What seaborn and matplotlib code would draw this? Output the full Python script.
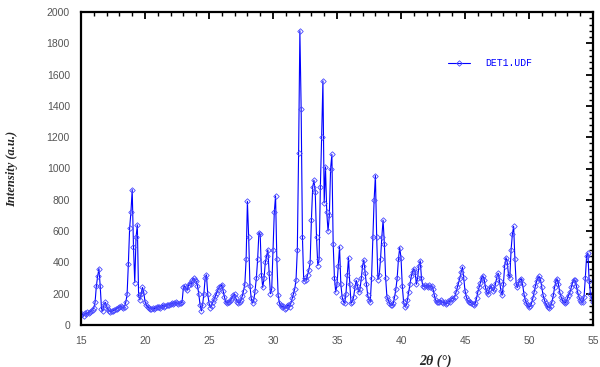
import numpy as np
import pandas as pd
import matplotlib
matplotlib.use("Agg")
import matplotlib.pyplot as plt
from matplotlib.ticker import MultipleLocator
from matplotlib.lines import Line2D
import seaborn as sns

# 2-theta from 15.0 to 55.0 in 0.1 deg steps
two_theta_start = 15.0
two_theta_step = 0.1
intensity = [
    65, 72, 60, 75, 70, 80, 78, 85, 90, 98,            # 15
    110, 145, 250, 310, 360, 250, 105, 90, 130, 145,   # 16
    120, 100, 92, 85, 88, 90, 95, 100, 105, 110,       # 17
    115, 122, 112, 108, 118, 145, 195, 390, 620, 720,  # 18
    865, 500, 270, 560, 640, 190, 160, 200, 240, 210,  # 19
    150, 128, 118, 110, 105, 100, 108, 102, 110, 112,  # 20
    115, 118, 110, 120, 125, 118, 122, 128, 130, 125,  # 21
    135, 140, 132, 138, 145, 140, 135, 142, 138, 150,  # 22
    240, 250, 235, 225, 255, 270, 260, 290, 300, 285,  # 23
    280, 250, 200, 130, 90, 130, 200, 300, 320, 200,   # 24
    140, 110, 120, 145, 165, 185, 205, 225, 240, 250,  # 25
    255, 220, 180, 150, 140, 145, 150, 160, 175, 190,  # 26
    195, 170, 150, 140, 145, 160, 185, 220, 260, 420,  # 27
    790, 560, 250, 170, 140, 160, 220, 300, 420, 590,  # 28
    580, 320, 240, 300, 400, 440, 480, 330, 200, 230,  # 29
    480, 720, 825, 420, 190, 140, 125, 115, 120, 105,  # 30
    110, 120, 130, 115, 140, 170, 200, 230, 290, 480,  # 31
    1100, 1880, 1380, 560, 280, 300, 290, 320, 350, 400,  # 32
    670, 880, 925, 850, 560, 380, 420, 880, 1200, 1560,   # 33
    780, 1010, 720, 600, 700, 1000, 1090, 520, 300, 210,  # 34
    260, 380, 500, 260, 180, 150, 140, 200, 320, 430,  # 35
    260, 140, 150, 180, 240, 285, 250, 210, 230, 300,  # 36
    380, 415, 330, 260, 190, 160, 150, 300, 560, 800,  # 37
    955, 560, 290, 320, 420, 560, 670, 520, 300, 180,  # 38
    160, 140, 130, 125, 140, 180, 230, 300, 420, 495,  # 39
    430, 250, 150, 118, 125, 160, 210, 260, 310, 340,  # 40
    360, 340, 260, 300, 380, 410, 300, 250, 245, 255,  # 41
    250, 240, 255, 245, 250, 230, 190, 160, 150, 145,  # 42
    150, 160, 145, 140, 150, 135, 140, 155, 150, 165,  # 43
    170, 165, 180, 210, 240, 270, 300, 340, 370, 300,  # 44
    220, 180, 160, 150, 145, 140, 135, 130, 140, 170,  # 45
    210, 240, 270, 300, 315, 290, 240, 210, 200, 230,  # 46
    250, 240, 220, 230, 270, 310, 330, 280, 220, 190,  # 47
    260, 380, 430, 400, 320, 300, 480, 580, 630, 420,  # 48
    260, 240, 270, 290, 295, 260, 200, 160, 140, 125,  # 49
    115, 120, 140, 170, 210, 250, 280, 300, 310, 290,  # 50
    240, 190, 160, 140, 125, 112, 108, 120, 150, 190,  # 51
    240, 280, 295, 260, 210, 180, 160, 145, 140, 150,  # 52
    170, 190, 210, 240, 270, 290, 285, 250, 210, 180,  # 53
    160, 150, 145, 180, 300, 440, 460, 280, 200, 170,  # 54
    150,                                               # 55
]
two_theta = [round(two_theta_start + i * two_theta_step, 1) for i in range(len(intensity))]
series_label = "DET1.UDF"
x_ticks = [15, 20, 25, 30, 35, 40, 45, 50, 55]
y_ticks = [0, 200, 400, 600, 800, 1000, 1200, 1400, 1600, 1800, 2000]

df = pd.DataFrame({"two_theta": two_theta, "intensity": intensity})

sns.set_style("white")
plt.rcParams["font.family"] = ["Liberation Sans", "DejaVu Sans"]

fig = plt.figure(figsize=(6.0, 3.67), dpi=100)
ax = fig.add_axes([81 / 600, 42 / 367, 512 / 600, 313 / 367])

line_color = "#0000ff"
marker_edge = "#4848ff"
sns.lineplot(data=df, x="two_theta", y="intensity", ax=ax, color=line_color,
             linewidth=0.8, marker="D", markersize=2.8, markerfacecolor="none",
             markeredgecolor=marker_edge, markeredgewidth=0.6, legend=False)

ax.set_xlim(15, 55)
ax.set_ylim(0, 2000)
ax.set_xticks(x_ticks)
ax.set_yticks(y_ticks)
ax.xaxis.set_minor_locator(MultipleLocator(1))
ax.yaxis.set_minor_locator(MultipleLocator(40))
ax.tick_params(which="both", direction="in", top=True, right=True,
               colors="black", labelcolor="#555555", labelsize=7.5, width=1.0)
ax.tick_params(which="major", length=5, width=1.3)
ax.tick_params(which="minor", length=3)
ax.tick_params(axis="x", pad=8)
ax.tick_params(axis="y", pad=8)
for sp in ax.spines.values():
    sp.set_linewidth(1.6)
    sp.set_color("black")

ax.set_xlabel("2θ (°)", fontfamily=["Liberation Serif", "DejaVu Serif"],
              fontweight="bold", fontstyle="italic", fontsize=10)
ax.xaxis.set_label_coords((435 - 81) / 512, -0.095)
ax.set_ylabel("Intensity (a.u.)", fontfamily=["Liberation Serif", "DejaVu Serif"],
              fontweight="bold", fontstyle="italic", fontsize=9)
ax.yaxis.set_label_coords(-0.123, 0.5)

handle = Line2D([], [], color=line_color, linewidth=0.8, marker="D", markersize=2.8,
                markerfacecolor="none", markeredgecolor=marker_edge, markeredgewidth=0.6)
leg = ax.legend([handle], [series_label], loc="center left",
                bbox_to_anchor=(0.70, 0.837), frameon=False, handlelength=2.2,
                handletextpad=1.6, prop={"family": "Liberation Mono", "size": 7})
for t in leg.get_texts():
    t.set_color(line_color)

fig.savefig("out.png", dpi=100)
